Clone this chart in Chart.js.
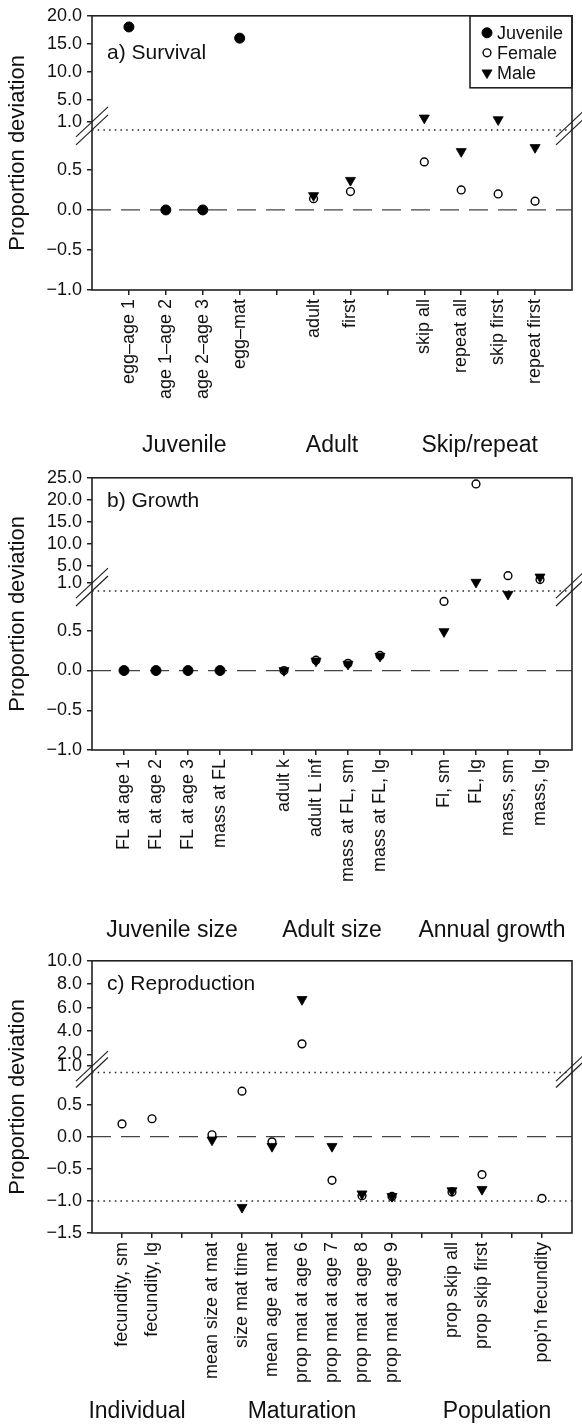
<!DOCTYPE html>
<html>
<head>
<meta charset="utf-8">
<title>Proportion deviation</title>
<script src="https://cdn.jsdelivr.net/npm/chart.js@4.4.0/dist/chart.umd.min.js"></script>
<style>
  html, body { margin: 0; padding: 0; background: #fff; }
  #wrap { position: relative; width: 582px; height: 1427px; overflow: hidden; }
  #wrap canvas { position: absolute; left: 0; }
</style>
</head>
<body>
<div id="wrap">
  <canvas id="panelA" width="582" height="462" style="top:0px"></canvas>
  <canvas id="panelB" width="582" height="483" style="top:462px"></canvas>
  <canvas id="panelC" width="582" height="482" style="top:945px"></canvas>
</div>
<script>
// ---- a) Survival ----
const SURVIVAL_LABELS   = ['egg–age 1', 'age 1–age 2', 'age 2–age 3', 'egg–mat', '', 'adult', 'first', '', 'skip all', 'repeat all', 'skip first', 'repeat first'];
const SURVIVAL_JUVENILE = [18.0, 0.0, 0.0, 16.0, null, null, null, null, null, null, null, null];
const SURVIVAL_FEMALE   = [null, null, null, null, null, 0.14, 0.23, null, 0.60, 0.25, 0.20, 0.11];
const SURVIVAL_MALE     = [null, null, null, null, null, 0.18, 0.37, null, 1.7, 0.73, 1.4, 0.78];
const SURVIVAL_GROUPS   = ['Juvenile', 'Adult', 'Skip/repeat'];
const SURVIVAL_SPANS    = [[1, 4], [6, 7], [9, 12]];
const SURVIVAL_TICKS_LOW  = [-1.0, -0.5, 0.0, 0.5];
const SURVIVAL_TICKS_HIGH = [1.0, 5.0, 10.0, 15.0, 20.0];

// ---- b) Growth ----
const GROWTH_LABELS   = ['FL at age 1', 'FL at age 2', 'FL at age 3', 'mass at FL', '', 'adult k', 'adult L inf', 'mass at FL, sm', 'mass at FL, lg', '', 'Fl, sm', 'FL, lg', 'mass, sm', 'mass, lg'];
const GROWTH_JUVENILE = [0.0, 0.0, 0.0, 0.0, null, null, null, null, null, null, null, null, null, null];
const GROWTH_FEMALE   = [null, null, null, null, null, 0.0, 0.13, 0.09, 0.19, null, 0.87, 23.6, 2.7, 1.8];
const GROWTH_MALE     = [null, null, null, null, null, 0.0, 0.12, 0.08, 0.18, null, 0.49, 1.2, 0.96, 2.4];
const GROWTH_GROUPS   = ['Juvenile size', 'Adult size', 'Annual growth'];
const GROWTH_SPANS    = [[1, 4], [6, 9], [11, 14]];
const GROWTH_TICKS_LOW  = [-1.0, -0.5, 0.0, 0.5];
const GROWTH_TICKS_HIGH = [1.0, 5.0, 10.0, 15.0, 20.0, 25.0];

// ---- c) Reproduction ----
const REPRO_LABELS = ['fecundity, sm', 'fecundity, lg', '', 'mean size at mat', 'size mat time', 'mean age at mat', 'prop mat at age 6', 'prop mat at age 7', 'prop mat at age 8', 'prop mat at age 9', '', 'prop skip all', 'prop skip first', '', "pop'n fecundity"];
const REPRO_FEMALE = [0.20, 0.28, null, 0.03, 0.71, -0.08, 2.9, -0.68, -0.92, -0.93, null, -0.86, -0.59, null, -0.96];
const REPRO_MALE   = [null, null, null, -0.05, -1.10, -0.15, 6.7, -0.15, -0.89, -0.93, null, -0.84, -0.82, null, null];
const REPRO_GROUPS = ['Individual', 'Maturation', 'Population'];
const REPRO_SPANS  = [[1, 2], [4, 10], [12, 15]];
const REPRO_TICKS_LOW  = [-1.5, -1.0, -0.5, 0.0, 0.5];
const REPRO_TICKS_HIGH = [1.0, 2.0, 4.0, 6.0, 8.0, 10.0];

const FONT = "'Liberation Sans', Arial, Helvetica, sans-serif";
const INK = '#111';

const STYLE_JUVENILE = { pointStyle: 'circle', pointRadius: 5, pointBorderWidth: 1, pointRotation: 0, pointBackgroundColor: '#000', pointBorderColor: '#000' };
const STYLE_FEMALE   = { pointStyle: 'circle', pointRadius: 3.9, pointBorderWidth: 1.4, pointRotation: 0, pointBackgroundColor: '#fff', pointBorderColor: '#000' };
const STYLE_MALE     = { pointStyle: 'triangle', pointRadius: 5.8, pointBorderWidth: 0.8, pointRotation: 180, pointBackgroundColor: '#000', pointBorderColor: '#000' };

const fmt = v => (v < 0 ? '\u2212' : '') + Math.abs(v).toFixed(1);

function drawMarker(ctx, st, x, y) {
  ctx.save();
  ctx.fillStyle = st.pointBackgroundColor;
  ctx.strokeStyle = st.pointBorderColor;
  ctx.lineWidth = st.pointBorderWidth;
  Chart.helpers.drawPoint(ctx, { pointStyle: st.pointStyle, rotation: st.pointRotation, radius: st.pointRadius, borderWidth: st.pointBorderWidth }, x, y);
  ctx.restore();
}

// frame, reference lines, axis breaks and text that sits around the plot
const decorations = {
  id: 'deco',
  beforeDatasetsDraw(chart, args, o) {
    const { ctx, chartArea: a, scales } = chart;
    const hline = (y) => { ctx.beginPath(); ctx.moveTo(a.left, y); ctx.lineTo(a.right, y); ctx.stroke(); };
    ctx.save();
    ctx.strokeStyle = '#444';
    ctx.lineWidth = 1.3;
    ctx.setLineDash([19, 10]);
    hline(scales.yLow.getPixelForValue(0));
    ctx.strokeStyle = '#222';
    ctx.lineWidth = 1.5;
    ctx.setLineDash([1.5, 4.2]);
    o.dotted.forEach(v => hline(scales.yLow.getPixelForValue(v)));
    ctx.restore();
  },
  afterDatasetsDraw(chart, args, o) {
    const { ctx, chartArea: a, scales } = chart;
    ctx.save();
    // plot frame
    ctx.strokeStyle = '#222';
    ctx.lineWidth = 1.6;
    ctx.strokeRect(a.left, a.top, a.right - a.left, a.bottom - a.top);

    // axis break marks
    const yU = scales.yHigh.getPixelForValue(scales.yHigh.min);
    const yL = scales.yLow.getPixelForValue(1.0);
    ctx.lineWidth = 1.2;
    ctx.strokeStyle = '#222';
    [a.left, a.right].forEach(x => {
      [yU, yL].forEach(y => {
        ctx.beginPath();
        ctx.moveTo(x - 16, y + 15);
        ctx.lineTo(x + 16, y - 15);
        ctx.stroke();
      });
    });

    ctx.fillStyle = INK;
    // y-axis title
    ctx.save();
    ctx.translate(18, (a.top + a.bottom) / 2);
    ctx.rotate(-Math.PI / 2);
    ctx.font = `22px ${FONT}`;
    ctx.textAlign = 'center';
    ctx.textBaseline = 'middle';
    ctx.fillText('Proportion deviation', 0, 0);
    ctx.restore();

    // panel title
    ctx.font = `21px ${FONT}`;
    ctx.textAlign = 'left';
    ctx.textBaseline = 'middle';
    ctx.fillText(o.title, a.left + 15, a.top + o.titleDy);

    // category group names
    ctx.font = `23px ${FONT}`;
    ctx.textAlign = 'center';
    const xs = scales.x;
    o.groups.forEach((g, i) => {
      const [from, to] = o.spans[i];
      const cx = (xs.getPixelForValue(from) + xs.getPixelForValue(to)) / 2;
      ctx.fillText(g, cx, a.bottom + o.groupDy);
    });

    // legend box
    if (o.legend) {
      const items = chart.data.datasets.filter(d => d.inLegend).sort((p, q) => q.order - p.order);
      const w = 102, h = 72;
      const left = a.right - w, top = a.top;
      ctx.strokeStyle = '#222';
      ctx.lineWidth = 1.6;
      ctx.strokeRect(left, top, w, h);
      ctx.font = `18px ${FONT}`;
      ctx.textAlign = 'left';
      ctx.textBaseline = 'middle';
      items.forEach((d, i) => {
        const y = top + 17 + i * 20;
        drawMarker(ctx, d, left + 17, y);
        ctx.fillStyle = INK;
        ctx.fillText(d.label, left + 27, y + 1);
      });
    }
    ctx.restore();
  }
};

function seriesDatasets(name, values, style, order) {
  // values above 1 sit on the compressed upper axis, the rest on the lower axis
  return [false, true].map(high => Object.assign({
    label: name,
    inLegend: !high,
    order,
    yAxisID: high ? 'yHigh' : 'yLow',
    showLine: false,
    clip: false,
    data: values
      .map((v, i) => (v === null ? null : { x: i + 1, y: v }))
      .filter(p => p && (high ? p.y > 1 : p.y <= 1))
  }, style));
}

function buildPanel(id, cfg) {
  const datasets = [];
  cfg.series.forEach(s => datasets.push(...seriesDatasets(s.name, s.values, s.style, s.order)));
  const tickFont = { family: FONT, size: 18 };
  const grid = { display: true, drawOnChartArea: false, drawTicks: true, tickLength: 5, color: '#222', lineWidth: 1.5 };
  const yCommon = (ticks) => ({
    type: 'linear',
    position: 'left',
    stack: 'y',
    afterBuildTicks: s => { s.ticks = ticks.map(v => ({ value: v })); },
    afterFit: s => { s.width = 92; },
    ticks: { autoSkip: false, padding: 5, color: INK, font: tickFont, callback: v => fmt(v) },
    grid,
    border: { display: false }
  });
  return new Chart(document.getElementById(id), {
    type: 'scatter',
    data: { datasets },
    plugins: [decorations],
    options: {
      responsive: false,
      animation: false,
      events: [],
      layout: { padding: { top: cfg.padTop, right: 10, left: 0, bottom: 0 } },
      scales: {
        x: {
          type: 'linear',
          position: 'bottom',
          min: 0,
          max: cfg.labels.length + 1,
          afterBuildTicks: s => { s.ticks = cfg.labels.map((_, i) => ({ value: i + 1 })); },
          afterFit: s => { s.height = cfg.xAxisHeight; s.paddingLeft = 0; s.paddingRight = 0; },
          ticks: { autoSkip: false, minRotation: 90, maxRotation: 90, padding: 4, color: INK, font: tickFont,
                   callback: v => cfg.labels[v - 1] ?? '' },
          grid,
          border: { display: false }
        },
        yLow: Object.assign(yCommon(cfg.lowTicks), { min: cfg.lowTicks[0], max: 1.1, stackWeight: 168 }),
        yHigh: Object.assign(yCommon(cfg.highTicks), { min: cfg.highTicks[0], max: cfg.highTicks[cfg.highTicks.length - 1], stackWeight: 106 })
      },
      plugins: {
        legend: { display: false },
        tooltip: { enabled: false },
        deco: {
          title: cfg.title, titleDy: cfg.titleDy,
          groups: cfg.groups, spans: cfg.spans, groupDy: cfg.groupDy,
          dotted: cfg.dotted, legend: cfg.legend
        }
      }
    }
  });
}

buildPanel('panelA', {
  title: 'a) Survival', titleDy: 37, legend: true,
  labels: SURVIVAL_LABELS, groups: SURVIVAL_GROUPS, spans: SURVIVAL_SPANS,
  lowTicks: SURVIVAL_TICKS_LOW, highTicks: SURVIVAL_TICKS_HIGH, dotted: [1.0],
  padTop: 15, xAxisHeight: 172, groupDy: 156,
  series: [
    { name: 'Juvenile', values: SURVIVAL_JUVENILE, style: STYLE_JUVENILE, order: 3 },
    { name: 'Female', values: SURVIVAL_FEMALE, style: STYLE_FEMALE, order: 2 },
    { name: 'Male', values: SURVIVAL_MALE, style: STYLE_MALE, order: 1 }
  ]
});

buildPanel('panelB', {
  title: 'b) Growth', titleDy: 23, legend: false,
  labels: GROWTH_LABELS, groups: GROWTH_GROUPS, spans: GROWTH_SPANS,
  lowTicks: GROWTH_TICKS_LOW, highTicks: GROWTH_TICKS_HIGH, dotted: [1.0],
  padTop: 13, xAxisHeight: 195, groupDy: 181,
  series: [
    { name: 'Juvenile', values: GROWTH_JUVENILE, style: STYLE_JUVENILE, order: 3 },
    { name: 'Female', values: GROWTH_FEMALE, style: STYLE_FEMALE, order: 2 },
    { name: 'Male', values: GROWTH_MALE, style: STYLE_MALE, order: 1 }
  ]
});

buildPanel('panelC', {
  title: 'c) Reproduction', titleDy: 23, legend: false,
  labels: REPRO_LABELS, groups: REPRO_GROUPS, spans: REPRO_SPANS,
  lowTicks: REPRO_TICKS_LOW, highTicks: REPRO_TICKS_HIGH, dotted: [1.0, -1.0],
  padTop: 14, xAxisHeight: 194, groupDy: 179,
  series: [
    { name: 'Female', values: REPRO_FEMALE, style: STYLE_FEMALE, order: 2 },
    { name: 'Male', values: REPRO_MALE, style: STYLE_MALE, order: 1 }
  ]
});
</script>
</body>
</html>
